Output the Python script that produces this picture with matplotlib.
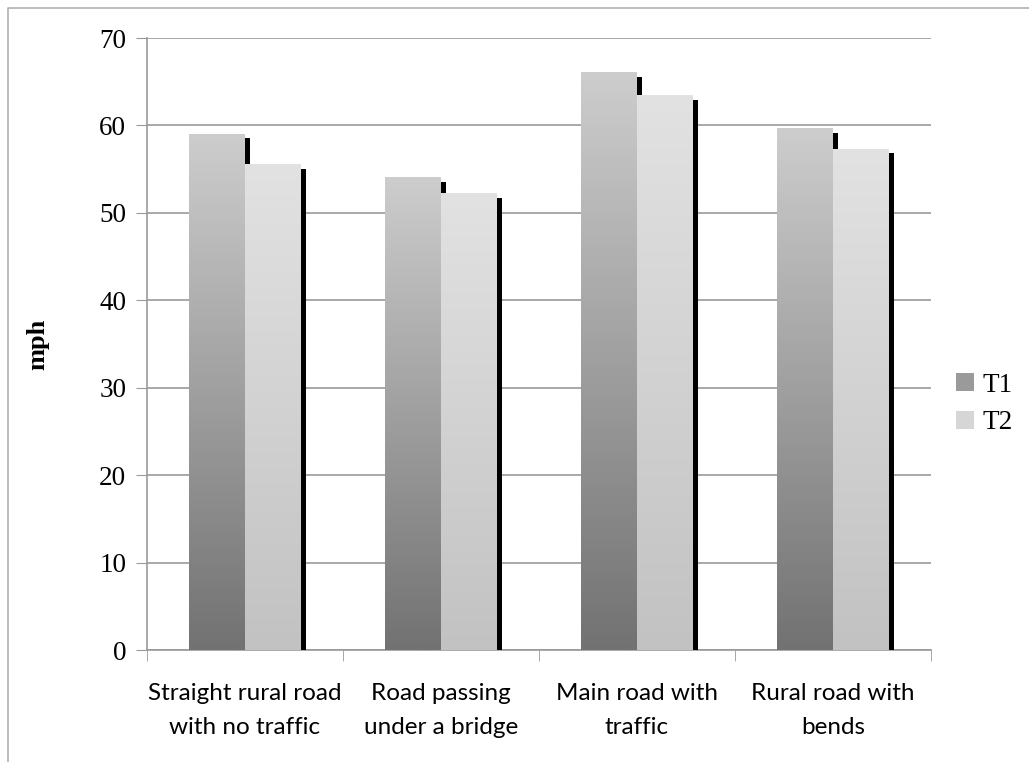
import numpy as np
import matplotlib
matplotlib.use("Agg")
from matplotlib import pyplot as plt
from matplotlib.colors import LinearSegmentedColormap
from matplotlib.lines import Line2D
from matplotlib.patches import Rectangle

categories = ["Straight rural road\nwith no traffic", "Road passing\nunder a bridge",
              "Main road with\ntraffic", "Rural road with\nbends"]
t1 = [59.0, 54.0, 66.0, 59.6]
t2 = [55.5, 52.2, 63.4, 57.3]
series = ["T1", "T2"]

# 渐变色: 顶部浅, 底部深
cmaps = [
    LinearSegmentedColormap.from_list("t1", ["#727272", "#cdcdcd"]),
    LinearSegmentedColormap.from_list("t2", ["#c2c2c2", "#e2e2e2"]),
]

fig = plt.figure(figsize=(10.29, 7.62), dpi=100)
W, H = 1029, 762
ax = fig.add_axes([147 / W, (H - 650) / H, (931 - 147) / W, (650 - 38) / H])

bar_width = 1 / 3.5
x = np.arange(len(categories))
grad = np.linspace(0, 1, 256).reshape(-1, 1)

for i, vals in enumerate([t1, t2]):
    xs = x + (i - 0.5) * bar_width
    # 黑色阴影 (向右下偏移)
    ax.bar(xs + 0.027, np.array(vals) - 0.45, width=bar_width, bottom=0,
           color="black", zorder=2 + i * 2)
    bars = ax.bar(xs, vals, width=bar_width, color="none", zorder=3 + i * 2)
    for b in bars:
        x0, y0 = b.get_x(), b.get_y()
        ax.imshow(grad, cmap=cmaps[i], origin="lower", aspect="auto",
                  extent=[x0, x0 + b.get_width(), y0, y0 + b.get_height()],
                  zorder=3 + i * 2)

ax.set_xlim(-0.5, len(categories) - 0.5)
ax.set_ylim(0, 70)
ax.set_yticks(range(0, 71, 10))
ax.set_xticks(x)
ax.set_xticklabels(categories, fontname="Lato", fontsize=17.5, linespacing=1.75)
ax.set_xticks(np.arange(-0.5, len(categories)), minor=True)
ax.tick_params(axis="x", which="major", length=0, pad=24)
ax.tick_params(axis="x", which="minor", length=8, color="#999999")
ax.tick_params(axis="y", length=8, color="#999999", pad=7)
for lab in ax.get_yticklabels():
    lab.set_fontname("Liberation Serif")
    lab.set_fontsize(19.5)

ax.grid(axis="y", color="#999999", linewidth=1.2, zorder=0)
ax.set_axisbelow(True)
for s in ["top", "right"]:
    ax.spines[s].set_visible(False)
for s in ["left", "bottom"]:
    ax.spines[s].set_color("#999999")
    ax.spines[s].set_linewidth(1.2)

ax.set_ylabel("mph", fontname="Liberation Serif", fontsize=19, fontweight="bold", labelpad=36)

# 图例
handles = [Rectangle((0, 0), 1, 1, facecolor=c) for c in ["#9a9a9a", "#d6d6d6"]]
leg = fig.legend(handles, series, loc="center left", bbox_to_anchor=(932 / W, (H - 404) / H),
                 frameon=False, prop={"family": "Liberation Serif", "size": 19.5},
                 handlelength=0.65, handleheight=0.65, handletextpad=0.3, labelspacing=0.45)

# 外框
fig.add_artist(Line2D([8 / W, 8 / W, 1], [0, 1 - 8 / H, 1 - 8 / H], color="#b0b0b0", linewidth=1.2))

plt.savefig("out.png", dpi=100)
